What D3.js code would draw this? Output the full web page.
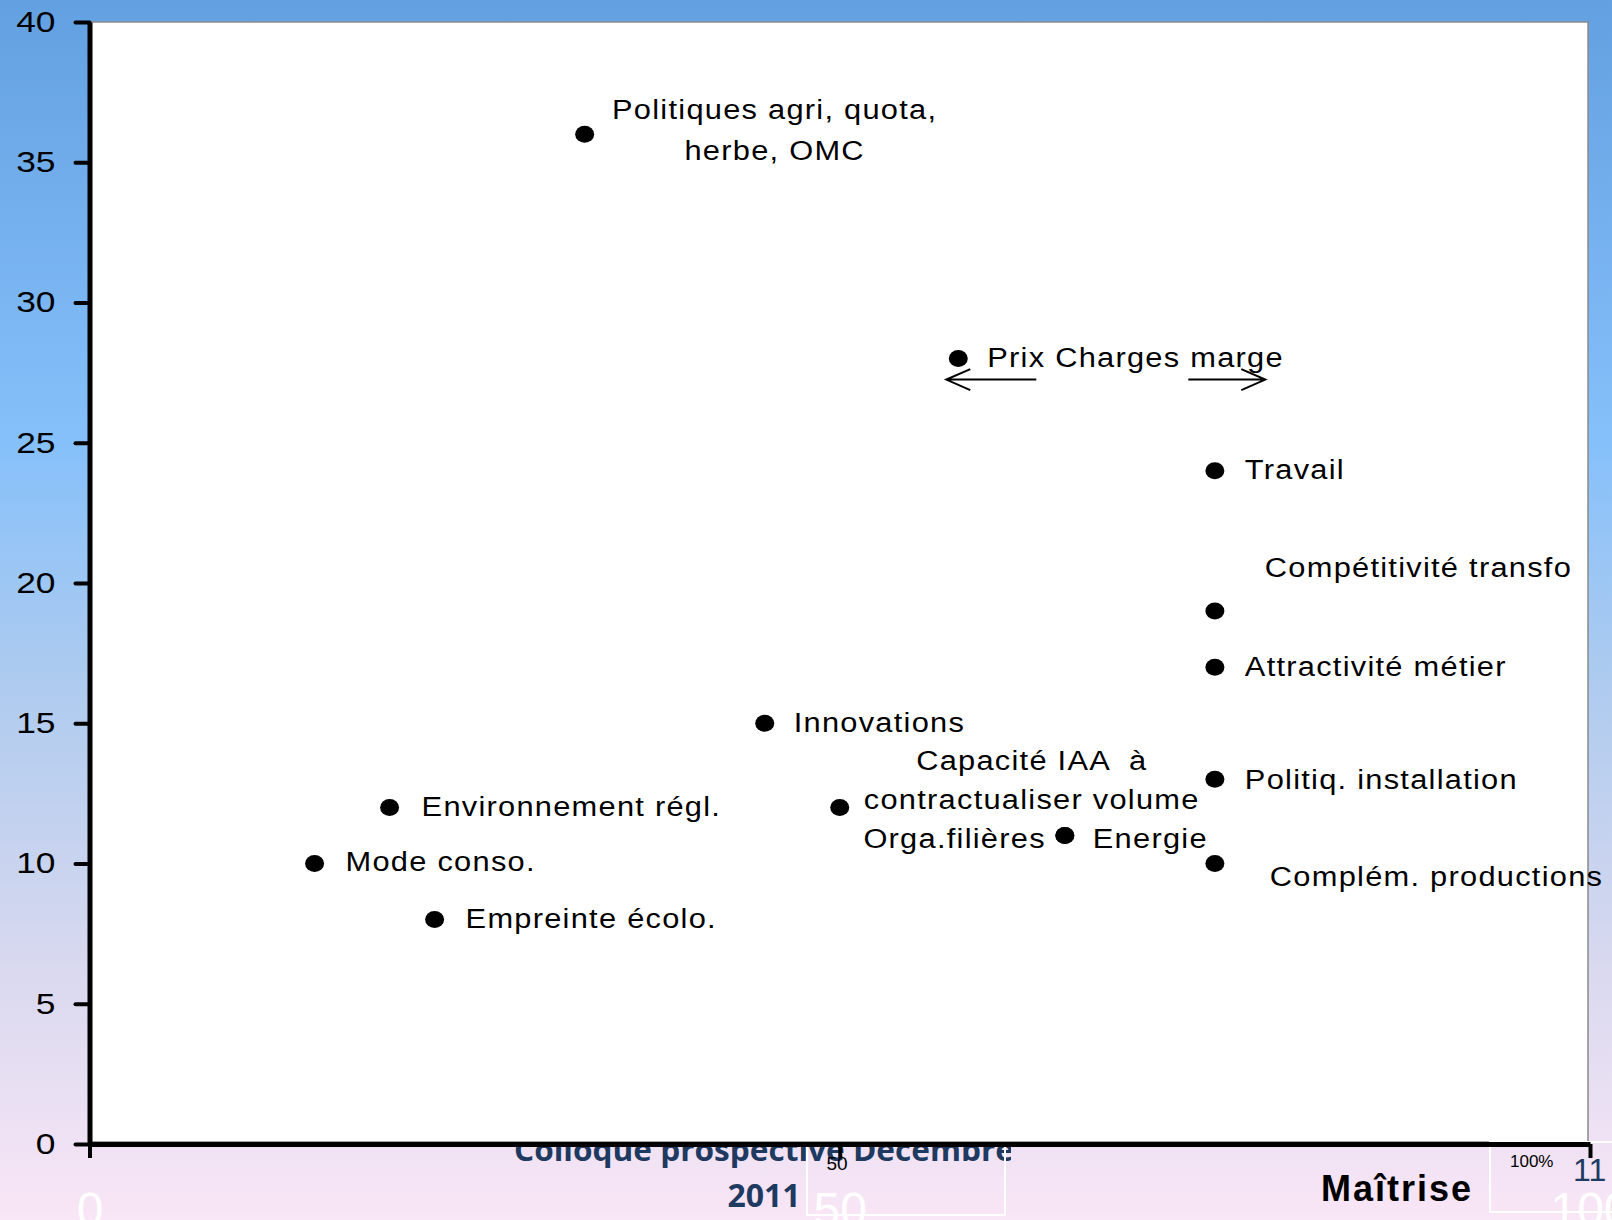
<!DOCTYPE html>
<html lang="fr">
<head>
<meta charset="utf-8">
<title>Maîtrise</title>
<style>
body { margin: 0; }
svg { display: block; }
svg text { font-family: "Liberation Sans", Arial, sans-serif; }
</style>
</head>
<body>
<script src="https://d3js.org/d3.v7.min.js"></script>
<script>

// points : libellé (| = retour à la ligne), maîtrise (x), impact (y)
var topics = ["Politiques agri, quota,|herbe, OMC", "Prix Charges marge", "Travail",
  "Compétitivité transfo", "Attractivité métier", "Innovations",
  "Capacité IAA  à|contractualiser volume", "Orga.filières", "Energie",
  "Politiq. installation", "Environnement régl.", "Mode conso.",
  "Empreinte écolo.", "Complém. productions"];
var maitrise = [33, 57.9, 75, 75, 75, 45, 50, 65, 65, 75, 20, 15, 23, 75];
var impact   = [36, 28, 24, 19, 17, 15, 12, 11, 11, 13, 12, 10, 8, 10];

var yTicks = [0, 5, 10, 15, 20, 25, 30, 35, 40];
var xTicks = [0, 50, 100];

// where each label sits relative to its dot
var labelLayout = [
  {dx: 190, dy: -15, anchor: "middle", lh: 41},
  {dx: 29, dy: 8, anchor: "start"},
  {dx: 30, dy: 8, anchor: "start"},
  {dx: 50, dy: -34, anchor: "start"},
  {dx: 30, dy: 9, anchor: "start"},
  {dx: 29, dy: 9, anchor: "start"},
  {dx: 192, dy: -37, anchor: "middle", lh: 39},
  {dx: -19, dy: 12.5, anchor: "end"},
  {dx: 28, dy: 12.5, anchor: "start"},
  {dx: 30, dy: 10, anchor: "start"},
  {dx: 32, dy: 9, anchor: "start"},
  {dx: 31, dy: 8, anchor: "start"},
  {dx: 31, dy: 8, anchor: "start"},
  {dx: 55, dy: 22.5, anchor: "start"}
];

var W = 1612, H = 1220;

var svg = d3.select("body").append("svg")
  .attr("width", W)
  .attr("height", H);

var defs = svg.append("defs");
var grad = defs.append("linearGradient")
  .attr("id", "bg")
  .attr("x1", 0).attr("y1", 0).attr("x2", 0).attr("y2", 1);
[[0, "#63a0e1"], [0.36, "#85c0fa"], [0.56, "#aecbef"], [0.8, "#dad9ef"], [1, "#f9e6f6"]]
  .forEach(function(s) {
    grad.append("stop").attr("offset", s[0]).attr("stop-color", s[1]);
  });
defs.append("clipPath").attr("id", "footclip")
  .append("rect").attr("x", 0).attr("y", 0).attr("width", 1011).attr("height", H);

svg.append("rect").attr("width", W).attr("height", H).attr("fill", "url(#bg)");

var x = d3.scaleLinear().domain([0, 100]).range([89.5, 1590]);
var y = d3.scaleLinear().domain([0, 40]).range([1144, 22]);

// slide footer, partly hidden behind the chart
var foot = svg.append("g").attr("clip-path", "url(#footclip)")
  .style("font-weight", "700")
  .attr("fill", "#1f3a60");
foot.append("text").attr("x", 764).attr("y", 1161).attr("text-anchor", "middle")
  .style("font-family", "'Open Sans', sans-serif").style("font-size", "31px")
  .attr("textLength", 500).attr("lengthAdjust", "spacingAndGlyphs")
  .text("Colloque prospective Décembre");
foot.append("text").attr("x", 764).attr("y", 1207).attr("text-anchor", "middle")
  .style("font-family", "'Open Sans', sans-serif").style("font-size", "32px")
  .text("2011");

// plot area
svg.append("rect")
  .attr("x", x(0)).attr("y", y(40))
  .attr("width", x(100) - x(0) - 2).attr("height", y(0) - y(40) - 2)
  .attr("fill", "#fff").attr("stroke", "#8a8a8a").attr("stroke-width", 1.5);

// leftover text boxes of the slide
svg.append("rect").attr("x", 807).attr("y", 1143).attr("width", 198).attr("height", 72)
  .attr("fill", "none").attr("stroke", "#fff").attr("stroke-width", 2);
svg.append("rect").attr("x", 1490).attr("y", 1142).attr("width", 140).attr("height", 70)
  .attr("fill", "none").attr("stroke", "#fff").attr("stroke-width", 2);
svg.append("text").attr("x", 837).attr("y", 1170).attr("text-anchor", "middle")
  .style("font-size", "19px").text("50");
svg.append("text").attr("x", 1510).attr("y", 1167)
  .style("font-size", "17px").text("100%");
svg.append("text").attr("x", 1573).attr("y", 1181).attr("fill", "#1f3a60")
  .style("font-size", "32px").text("11");
svg.append("text").attr("x", 1321).attr("y", 1201)
  .style("font-size", "36px").style("font-weight", "700").style("letter-spacing", "2px")
  .text("Maîtrise");

// axes
var sx = 1.22;
var yAxis = svg.append("g")
  .attr("transform", "translate(" + x(0) + ",0)")
  .call(d3.axisLeft(y).tickValues(yTicks).tickSize(14).tickSizeOuter(0).tickPadding(20));
yAxis.select(".domain").attr("stroke", "#000").attr("stroke-width", 5);
yAxis.selectAll(".tick line").attr("stroke", "#000").attr("stroke-width", 4)
  .attr("stroke-linecap", "round");
yAxis.selectAll(".tick text")
  .attr("x", -34 / sx)
  .attr("transform", "scale(" + sx + ",1)")
  .attr("fill", "#000")
  .style("font-size", "29px")
  .style("font-family", "'Liberation Sans', Arial, sans-serif");

var xAxis = svg.append("g")
  .attr("transform", "translate(0," + y(0) + ")")
  .call(d3.axisBottom(x).tickValues(xTicks).tickSize(14).tickSizeOuter(0).tickPadding(34));
xAxis.select(".domain").attr("stroke", "#000").attr("stroke-width", 5);
xAxis.selectAll(".tick line").attr("stroke", "#000").attr("stroke-width", 4);
xAxis.selectAll(".tick text")
  .attr("fill", "#fff")
  .style("font-size", "48px")
  .style("font-family", "'Liberation Sans', Arial, sans-serif");

// dots and labels
var pts = topics.map(function(t, i) {
  return {name: t, mx: maitrise[i], im: impact[i], lay: labelLayout[i]};
});

svg.append("g").selectAll("ellipse")
  .data(pts)
  .enter().append("ellipse")
  .attr("cx", function(d) { return x(d.mx); })
  .attr("cy", function(d) { return y(d.im); })
  .attr("rx", 9.5)
  .attr("ry", 8.5)
  .attr("fill", "#000");

// labels are a bit wider than plain Arial in the original
var lsx = 1.1;
var labels = svg.append("g").selectAll("text")
  .data(pts)
  .enter().append("text")
  .attr("text-anchor", function(d) { return d.lay.anchor; })
  .attr("transform", "scale(" + lsx + ",1)")
  .style("font-size", "28px")
  .style("letter-spacing", "1.15px")
  .style("white-space", "pre")
  .attr("fill", "#000");

labels.each(function(d) {
  var el = d3.select(this);
  d.name.split("|").forEach(function(line, k) {
    el.append("tspan")
      .attr("x", (x(d.mx) + d.lay.dx) / lsx)
      .attr("y", y(d.im) + d.lay.dy + k * (d.lay.lh || 0))
      .text(line);
  });
});

// the two arrows under "Prix Charges marge"
var px = x(maitrise[1]), py = y(impact[1]) + 21;
var arrows = svg.append("g").attr("stroke", "#000").attr("stroke-width", 2)
  .attr("fill", "none");
arrows.append("path")
  .attr("d", "M" + (px + 78) + "," + py + "H" + (px - 12)
    + "M" + (px + 12) + "," + (py - 10.5) + "L" + (px - 12) + "," + py + "L" + (px + 12) + "," + (py + 10.5));
arrows.append("path")
  .attr("d", "M" + (px + 230) + "," + py + "H" + (px + 307)
    + "M" + (px + 283) + "," + (py - 10.5) + "L" + (px + 307) + "," + py + "L" + (px + 283) + "," + (py + 10.5));

</script>
</body>
</html>
